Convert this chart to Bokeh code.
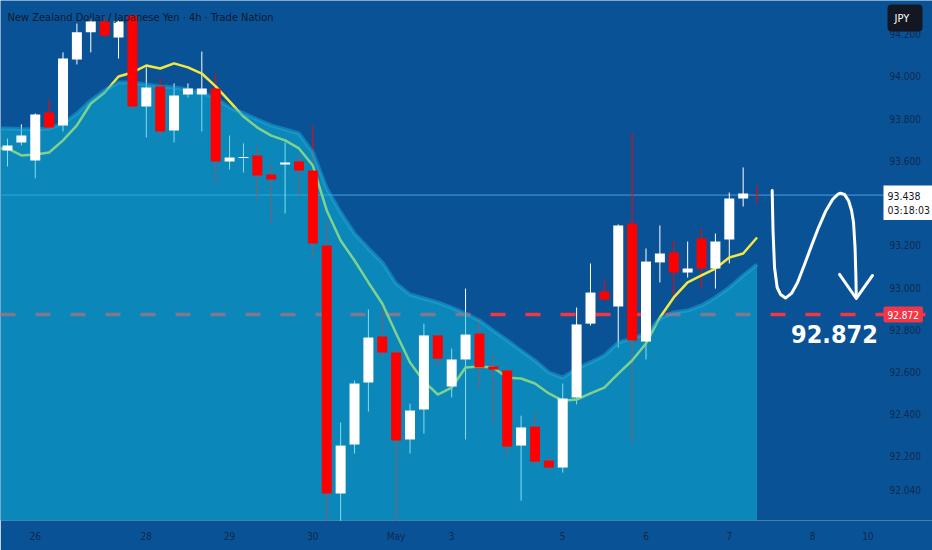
from bokeh.plotting import figure
from bokeh.models import Range1d, LinearAxis, FixedTicker, Span, Label, ColumnDataSource, NumeralTickFormatter
from bokeh.embed import file_html
from bokeh.resources import INLINE

# ---------------- data ----------------
title_text = "New Zealand Dollar / Japanese Yen \u00b7 4h \u00b7 Trade Nation"

opens = [93.649, 93.687, 93.602, 93.829, 93.768, 94.081, 94.209, 94.261, 94.185, 94.289,
         93.858, 93.953, 93.744, 93.915, 93.915, 93.943, 93.597, 93.614, 93.626, 93.536,
         93.583, 93.597, 93.555, 93.199, 92.024, 92.256, 92.550, 92.768, 92.692, 92.280,
         92.422, 92.773, 92.531, 92.659, 92.782, 92.626, 92.607, 92.251, 92.341, 92.180,
         92.147, 92.479, 92.829, 92.981, 92.910, 93.303, 92.744, 93.119, 93.166, 93.071,
         93.232, 93.090, 93.228, 93.422, 93.440]
closes = [93.673, 93.720, 93.820, 93.758, 94.085, 94.209, 94.261, 94.194, 94.261, 93.858,
          93.948, 93.739, 93.910, 93.943, 93.943, 93.597, 93.616, 93.619, 93.531, 93.512,
          93.592, 93.555, 93.209, 92.024, 92.251, 92.545, 92.763, 92.692, 92.275, 92.417,
          92.773, 92.663, 92.659, 92.777, 92.621, 92.611, 92.246, 92.337, 92.175, 92.147,
          92.474, 92.825, 92.976, 92.943, 93.294, 92.749, 93.123, 93.161, 93.071, 93.090,
          93.090, 93.218, 93.422, 93.446, 93.438]
highs = [93.706, 93.773, 93.825, 93.891, 94.114, 94.251, 94.275, 94.275, 94.265, 94.299,
         94.043, 93.991, 93.967, 93.967, 94.118, 94.014, 93.720, 93.683, 93.673, 93.588,
         93.687, 93.626, 93.768, 93.318, 92.360, 92.559, 92.896, 92.905, 92.716, 92.450,
         92.829, 92.782, 92.711, 92.995, 92.853, 92.687, 92.616, 92.393, 92.408, 92.204,
         92.545, 92.905, 93.114, 93.038, 93.299, 93.735, 93.185, 93.294, 93.223, 93.218,
         93.280, 93.256, 93.450, 93.569, 93.483]
lows = [93.573, 93.673, 93.517, 93.754, 93.739, 94.057, 94.114, 94.185, 94.085, 93.839,
        93.711, 93.716, 93.687, 93.900, 93.739, 93.493, 93.559, 93.545, 93.412, 93.303,
        93.351, 93.431, 93.138, 91.850, 91.850, 92.213, 92.412, 92.668, 91.850, 92.213,
        92.308, 92.621, 92.479, 92.280, 92.521, 92.351, 92.199, 91.990, 92.156, 92.142,
        92.123, 92.446, 92.820, 92.938, 92.716, 92.261, 92.659, 93.024, 92.953, 93.047,
        92.995, 92.995, 93.114, 93.384, 93.398]
band = [93.754, 93.751, 93.749, 93.754, 93.777, 93.825, 93.886, 93.934, 93.972, 93.972,
        93.962, 93.953, 93.948, 93.938, 93.924, 93.896, 93.853, 93.825, 93.796, 93.768,
        93.749, 93.730, 93.640, 93.469, 93.356, 93.256, 93.185, 93.119, 93.019, 92.967,
        92.948, 92.929, 92.905, 92.877, 92.844, 92.796, 92.749, 92.701, 92.654, 92.597,
        92.573, 92.616, 92.645, 92.678, 92.739, 92.758, 92.782, 92.853, 92.882, 92.891,
        92.915, 92.953, 93.000, 93.057, 93.109]
ema = [93.659, 93.626, 93.630, 93.640, 93.697, 93.768, 93.872, 93.924, 94.000, 94.019,
       94.052, 94.038, 94.062, 94.043, 94.014, 93.953, 93.882, 93.810, 93.758, 93.720,
       93.697, 93.659, 93.578, 93.365, 93.223, 93.128, 93.024, 92.924, 92.782, 92.645,
       92.555, 92.493, 92.526, 92.621, 92.626, 92.621, 92.573, 92.569, 92.545, 92.498,
       92.464, 92.469, 92.498, 92.526, 92.592, 92.654, 92.735, 92.858, 92.953, 93.024,
       93.057, 93.090, 93.142, 93.161, 93.237]

date_ticks = [2, 10, 16, 22, 28, 32, 40, 46, 52, 58, 62]
date_labels = ["26", "28", "29", "30", "May", "3", "5", "6", "7", "8", "10"]
price_ticks = [92.04, 92.2, 92.4, 92.6, 92.8, 93.0, 93.2, 93.6, 93.8, 94.0, 94.2]

last_price = 93.438
countdown = "03:18:03"
target = 92.872
currency = "JPY"

# hand-drawn forecast stroke (bar index, price)
sketch_x = [55.09, 55.15, 55.26, 55.45, 55.69, 56.05, 56.48, 56.92, 57.42, 57.93, 58.43,
            58.93, 59.44, 59.80, 60.01, 60.30, 60.59, 60.81, 60.95, 61.06, 61.12, 61.15]
sketch_y = [93.460, 93.270, 93.095, 93.000, 92.967, 92.950, 92.972, 93.024, 93.109, 93.199, 93.284,
            93.360, 93.417, 93.441, 93.447, 93.441, 93.412, 93.365, 93.308, 93.190, 93.057, 92.953]
head_x = [59.94, 61.15, 62.32]
head_y = [93.062, 92.948, 93.057]

# ---------------- styling ----------------
BG = "#0a5296"
AREA = "#0cbcdc"
TXT = "#0f2a4d"
FONT = "'DejaVu Sans Condensed', Roboto, sans-serif"

X0, X1 = -0.504, 66.64          # visible bar-index window
Y0, Y1 = 91.896, 94.360         # visible price window
SCALE_X = 63.11                 # where the price scale begins

p = figure(width=932, height=550, x_range=Range1d(X0, X1), y_range=Range1d(Y0, Y1),
           output_backend="svg", toolbar_location=None,
           x_axis_location=None, y_axis_location=None,
           min_border_left=0, min_border_top=0, min_border_right=0, min_border_bottom=30,
           background_fill_color=BG, border_fill_color=BG, outline_line_color=None)
p.grid.visible = False

yax = LinearAxis(ticker=FixedTicker(ticks=price_ticks), formatter=NumeralTickFormatter(format="0.000"),
                 fixed_location=SCALE_X)
yax.axis_line_color = None
yax.major_tick_line_color = None
yax.minor_tick_line_color = None
yax.major_tick_out = 0
yax.major_tick_in = 0
yax.major_label_standoff = 6
yax.major_label_text_font = FONT
yax.major_label_text_font_size = "10px"
yax.major_label_text_color = TXT
p.add_layout(yax, "right")

xax = LinearAxis(ticker=FixedTicker(ticks=date_ticks),
                 major_label_overrides={t: l for t, l in zip(date_ticks, date_labels)})
xax.axis_line_color = None
xax.major_tick_line_color = None
xax.minor_tick_line_color = None
xax.major_tick_out = 0
xax.major_tick_in = 0
xax.major_label_standoff = 10
xax.major_label_text_font = FONT
xax.major_label_text_font_size = "10px"
xax.major_label_text_color = TXT
p.add_layout(xax, "below")

n = len(opens)
idx = list(range(n))
colors = ["#ffffff" if c >= o else "#ff0000" for o, c in zip(opens, closes)]
tops = [max(o, c) for o, c in zip(opens, closes)]
bots = [min(o, c) for o, c in zip(opens, closes)]
src = ColumnDataSource(dict(x=idx, h=highs, l=lows, top=tops, bottom=bots, color=colors))

# the band and average continue past the left edge of the window
edge_x = [X0] + idx
edge_band = [band[0]] + band
edge_ema = [ema[0]] + ema

# reference lines (under the translucent area)
p.add_layout(Span(location=last_price, dimension="width", line_color="#4a9de0",
                  line_width=1, level="underlay"))
p.add_layout(Span(location=target, dimension="width", line_color="#f23645", line_width=3.5,
                  line_dash="15 20", level="underlay"))

# wicks and moving average (under the area)
p.segment(x0="x", y0="h", x1="x", y1="l", line_color="color", line_width=1, source=src)
p.line(edge_x, edge_ema, line_color="#f2e83e", line_width=2.5)

# translucent band area
p.varea(x=edge_x, y1=[Y0] * len(edge_x), y2=edge_band, fill_color=AREA, fill_alpha=0.5)
p.line(edge_x, edge_band, line_color="#22b0e0", line_width=4, line_alpha=0.45)

# candle bodies
p.vbar(x="x", top="top", bottom="bottom", width=0.72, fill_color="color", line_color=None, source=src)

# hand-drawn forecast
p.line(sketch_x, sketch_y, line_color="white", line_width=3, line_cap="round", line_join="round")
p.line(head_x, head_y, line_color="white", line_width=3, line_cap="round", line_join="round")

p.add_layout(Label(x=56.45, y=92.782, text=f"{target:.3f}", text_font=FONT, text_font_size="25px",
                   text_font_style="bold", text_color="white", text_baseline="alphabetic"))

# title
p.add_layout(Label(x=0.0, y=94.280, text=title_text, text_font=FONT, text_font_size="11px",
                   text_color="#0c1a2e", text_baseline="middle"))

# price-scale tags
p.add_layout(Label(x=SCALE_X, y=target, text=f"{target:.3f}", text_font=FONT, text_font_size="10px",
                   text_color="white", text_baseline="middle", background_fill_color="#f23645",
                   padding=4, border_radius=2))
p.add_layout(Label(x=SCALE_X, y=93.483, text=f"{last_price:.3f}\n{countdown}", text_font=FONT,
                   text_font_size="10.5px", text_color="#131722", text_baseline="top",
                   background_fill_color="white", padding=4))
p.add_layout(Label(x=63.40, y=94.341, text=currency + "  ", text_font=FONT, text_font_size="11px",
                   text_color="white", text_baseline="top", background_fill_color="#131722",
                   padding=7, border_radius=4))

open("out.html", "w").write(file_html(p, INLINE))
